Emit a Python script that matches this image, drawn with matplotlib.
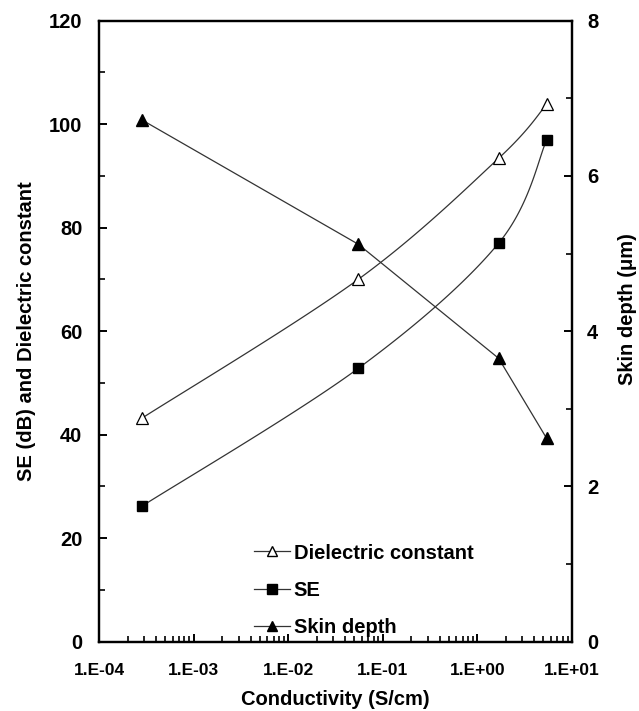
import numpy as np
import matplotlib.pyplot as plt
from matplotlib.ticker import FuncFormatter, MultipleLocator, LogLocator, NullFormatter

plt.rcParams['font.family'] = ['Liberation Sans', 'DejaVu Sans']
plt.rcParams['font.weight'] = 'bold'

# Data
conductivity = [2.85e-4, 5.5e-2, 1.68, 5.4]
dielectric = [43.2, 70.0, 93.4, 103.8]
se = [26.2, 52.8, 77.0, 96.9]
skin_depth = [6.72, 5.12, 3.65, 2.62]


def smooth(ax, xs, ys, n=40):
    # Catmull-Rom curve in display space, like a spreadsheet "smoothed line"
    pts = ax.transData.transform(np.column_stack([xs, ys]))
    p = np.vstack([pts[0], pts, pts[-1]])
    out = []
    t = np.linspace(0, 1, n)[:, None]
    for i in range(1, len(p) - 2):
        p0, p1, p2, p3 = p[i - 1], p[i], p[i + 1], p[i + 2]
        c = 0.5 * (2 * p1 + (-p0 + p2) * t + (2 * p0 - 5 * p1 + 4 * p2 - p3) * t ** 2
                   + (-p0 + 3 * p1 - 3 * p2 + p3) * t ** 3)
        out.append(c)
    curve = ax.transData.inverted().transform(np.vstack(out))
    return curve[:, 0], curve[:, 1]


fig = plt.figure(figsize=(6.39, 7.11), dpi=100)
ax = fig.add_axes([0.155, 0.0975, 0.74, 0.8735])
ax.set_xscale('log')
ax.set_xlim(1e-4, 1e1)
ax.set_ylim(0, 120)
ax2 = ax.twinx()
ax2.set_ylim(0, 8)

fig.canvas.draw()

lw = 0.9
cx, cy = smooth(ax, conductivity, dielectric)
ax.plot(cx, cy, color='#333333', lw=lw)
cx, cy = smooth(ax, conductivity, se)
ax.plot(cx, cy, color='#333333', lw=lw)
ax2.plot(conductivity, skin_depth, color='#333333', lw=lw)

ax.plot(conductivity, dielectric, ls='none', marker='^', ms=8.5, mfc='white', mec='black', mew=0.9)
ax.plot(conductivity, se, ls='none', marker='s', ms=7, color='black')
ax2.plot(conductivity, skin_depth, ls='none', marker='^', ms=8.5, color='black')

# Legend handles
h1, = ax.plot([], [], color='#333333', lw=lw, marker='^', ms=7.5, mfc='white', mec='black')
h2, = ax.plot([], [], color='#333333', lw=lw, marker='s', ms=6.5, mfc='black', mec='black')
h3, = ax.plot([], [], color='#333333', lw=lw, marker='^', ms=7.5, mfc='black', mec='black')
ax.legend([h1, h2, h3], ['Dielectric constant', 'SE', 'Skin depth'],
          loc='center left', bbox_to_anchor=(0.29, 0.083), frameon=False,
          handlelength=1.75, handletextpad=0.2, labelspacing=0.9,
          prop={'weight': 'bold', 'size': 14.5})

# Axes styling
for a in (ax, ax2):
    for s in a.spines.values():
        s.set_linewidth(1.6)
ax.yaxis.set_major_locator(MultipleLocator(20))
ax.yaxis.set_minor_locator(MultipleLocator(10))
ax2.yaxis.set_major_locator(MultipleLocator(2))
ax2.yaxis.set_minor_locator(MultipleLocator(1))
ax.xaxis.set_major_locator(LogLocator(base=10, numticks=10))
ax.xaxis.set_minor_locator(LogLocator(base=10, subs=np.arange(2, 10), numticks=10))
ax.xaxis.set_minor_formatter(NullFormatter())
ax.xaxis.set_major_formatter(FuncFormatter(lambda v, p: f"1.E{int(round(np.log10(v))):+03d}"))

ax.tick_params(axis='y', which='major', direction='in', length=6, width=1.4,
               labelsize=14.5, pad=12)
ax.tick_params(axis='x', which='major', direction='in', length=6, width=1.4,
               labelsize=12.5, pad=15, top=False)
ax.tick_params(axis='both', which='minor', direction='in', length=4, width=1.2, top=False)
ax.tick_params(axis='y', which='both', right=False)
ax2.tick_params(axis='y', which='major', direction='in', length=6, width=1.4, labelsize=14.5, pad=11)
ax2.tick_params(axis='y', which='minor', direction='in', length=4, width=1.2)

ax.set_xlabel('Conductivity (S/cm)', fontsize=14.5, fontweight='bold', labelpad=9)
ax.set_ylabel('SE (dB) and Dielectric constant', fontsize=14.5, fontweight='bold', labelpad=9)
ax2.set_ylabel('Skin depth (\u03bcm)', fontsize=14.5, fontweight='bold', labelpad=14)
ax2.yaxis.label.set_y(0.536)

fig.savefig('out.png', dpi=100)
